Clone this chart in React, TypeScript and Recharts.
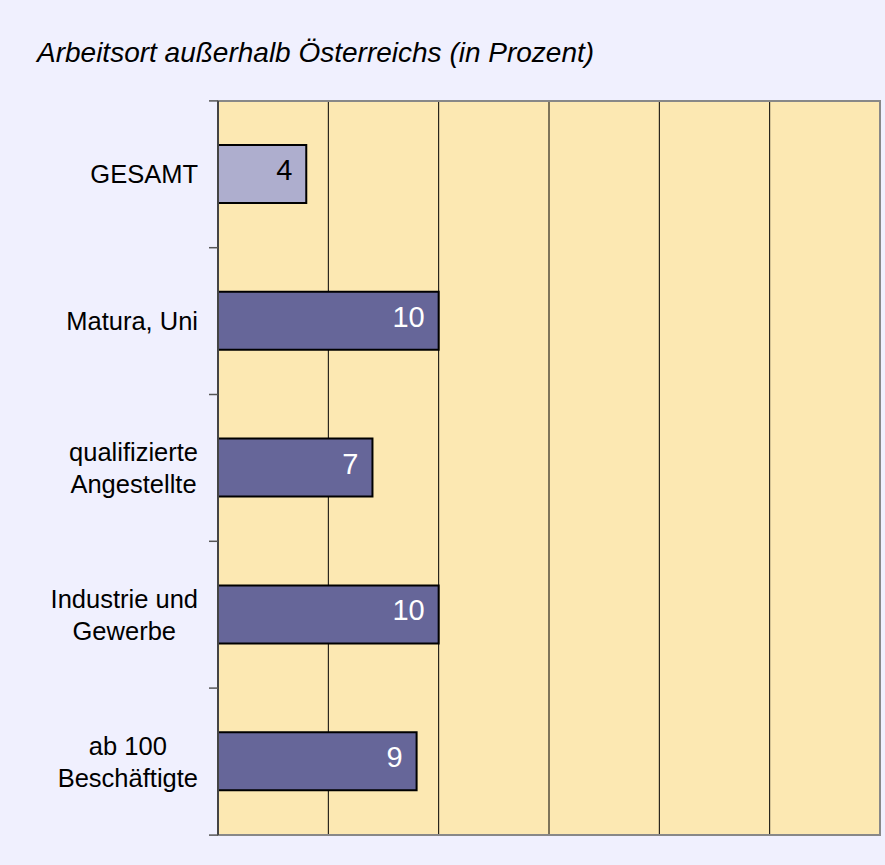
import React from "react";
import {
  BarChart,
  Bar,
  XAxis,
  YAxis,
  CartesianGrid,
  Cell,
  LabelList,
  ReferenceArea,
  ReferenceLine,
} from "recharts";

const categories = [
  "GESAMT",
  "Matura, Uni",
  "qualifizierte\nAngestellte",
  "Industrie und\nGewerbe",
  "ab 100\nBeschäftigte",
];
const values = [4, 10, 7, 10, 9];
const xTicks = [0, 5, 10, 15, 20, 25, 30];
const title = "Arbeitsort außerhalb Österreichs (in Prozent)";

const data = categories.map((name, i) => ({ name, value: values[i] }));

const FONT = '"Liberation Sans", Arial, sans-serif';
const LABEL_SIZE = 25.5;
const LINE_H = 32;
const CHART_W = 885;
const CHART_H = 865;
const MARGIN = { top: 101, right: 5, bottom: 29, left: 0 };
const BAND = (CHART_H - MARGIN.top - MARGIN.bottom) / categories.length;

let ctx: CanvasRenderingContext2D | null = null;
function measure(text: string): number {
  if (!ctx) {
    const c = document.createElement("canvas");
    ctx = c.getContext("2d");
  }
  if (!ctx) return text.length * LABEL_SIZE * 0.5;
  ctx.font = `${LABEL_SIZE}px ${FONT}`;
  return ctx.measureText(text).width;
}

function CatTick(props: any) {
  const { x, y, payload, index } = props;
  const lines = String(payload.value).split("\n");
  const widths = lines.map(measure);
  const blockW = Math.max(...widths);
  const right = x - 12;
  const cx = right - blockW / 2;
  const n = lines.length;
  const axisX = x + 8;
  return (
    <g>
      <line
        x1={axisX - 9}
        x2={axisX}
        y1={y - BAND / 2}
        y2={y - BAND / 2}
        stroke="#555"
        strokeWidth={1.5}
      />
      {index === categories.length - 1 && (
        <line
          x1={axisX - 9}
          x2={axisX}
          y1={y + BAND / 2}
          y2={y + BAND / 2}
          stroke="#555"
          strokeWidth={1.5}
        />
      )}
      {lines.map((l, i) => (
        <text
          key={i}
          x={cx}
          y={y + 9 + (i - (n - 1) / 2) * LINE_H}
          textAnchor="middle"
          fontSize={LABEL_SIZE}
          fontFamily={FONT}
          fill="#000"
        >
          {l}
        </text>
      ))}
    </g>
  );
}

function ValueLabel(props: any) {
  const { x, y, width, height, value, index } = props;
  return (
    <text
      x={x + width - 14}
      y={y + height / 2 + 6}
      textAnchor="end"
      fontSize={29}
      fontFamily={FONT}
      fill={index === 0 ? "#000" : "#fff"}
    >
      {value}
    </text>
  );
}

export default function App() {
  return (
    <div
      style={{
        position: "absolute",
        left: 0,
        top: 0,
        width: CHART_W,
        height: CHART_H,
        background: "#F0F0FE",
        fontFamily: FONT,
        overflow: "hidden",
      }}
    >
      <div
        style={{
          position: "absolute",
          left: 37,
          top: 39,
          fontSize: 28,
          lineHeight: "28px",
          fontStyle: "italic",
          whiteSpace: "nowrap",
          color: "#000",
        }}
      >
        {title}
      </div>
      <div style={{ position: "absolute", left: 0, top: 0 }}>
        <BarChart
          width={CHART_W}
          height={CHART_H}
          data={data}
          layout="vertical"
          margin={MARGIN}
          barCategoryGap={0}
        >
          <CartesianGrid
            horizontal={false}
            vertical={true}
            stroke="#000"
            fill="#FCE8B2"
            fillOpacity={1}
          />
          <XAxis
            type="number"
            domain={[0, 30]}
            ticks={xTicks}
            height={1}
            tick={() => <g />}
            tickLine={false}
            axisLine={false}
            interval={0}
          />
          <YAxis
            type="category"
            dataKey="name"
            width={218}
            axisLine={false}
            tickLine={false}
            interval={0}
            tick={<CatTick />}
          />
          <ReferenceArea
            x1={0}
            x2={30}
            fill="none"
            stroke="#888"
            strokeWidth={2}
            ifOverflow="visible"
          />
          <ReferenceLine x={0} stroke="#444" strokeWidth={2} ifOverflow="visible" />
          <Bar
            dataKey="value"
            barSize={58}
            stroke="#000"
            strokeWidth={2}
            isAnimationActive={false}
          >
            {data.map((d, i) => (
              <Cell key={i} fill={i === 0 ? "#AEAECE" : "#666699"} />
            ))}
            <LabelList dataKey="value" content={<ValueLabel />} />
          </Bar>
        </BarChart>
      </div>
    </div>
  );
}
